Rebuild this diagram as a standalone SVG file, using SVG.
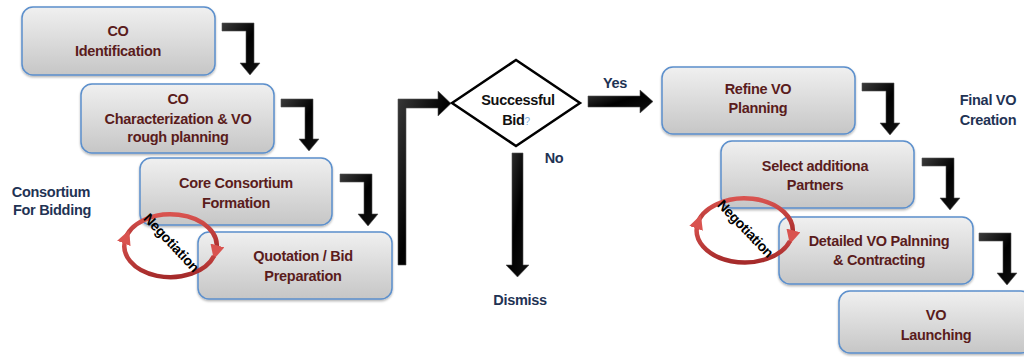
<svg xmlns="http://www.w3.org/2000/svg" xmlns:xlink="http://www.w3.org/1999/xlink" width="1024" height="357" viewBox="0 0 1024 357">
  <defs>
    <linearGradient id="boxFill" x1="0" y1="0" x2="0" y2="1">
      <stop offset="0" stop-color="#f0f0f0"/>
      <stop offset="1" stop-color="#c6c6c6"/>
    </linearGradient>
    <linearGradient id="arrowFill" x1="0" y1="0" x2="1" y2="1">
      <stop offset="0" stop-color="#3a3a3a"/>
      <stop offset="0.5" stop-color="#000"/>
      <stop offset="1" stop-color="#111"/>
    </linearGradient>
    <linearGradient id="ringFill" x1="0" y1="0" x2="0" y2="1">
      <stop offset="0" stop-color="#d9534f"/>
      <stop offset="1" stop-color="#a52a2a"/>
    </linearGradient>
    <filter id="shadow" x="-5%" y="-5%" width="110%" height="120%">
      <feDropShadow dx="0" dy="1.5" stdDeviation="1" flood-color="#000" flood-opacity="0.3"/>
    </filter>
    <!-- elbow arrow: right then down -->
    <path id="elbow" d="M0 0 H32 V40 H38 L28 52 L18 40 H24 V8 H0 Z"/>
    <!-- red arrow tip for the negotiation ring -->
    <marker id="ringTip" viewBox="0 0 10 10" refX="4" refY="5" markerWidth="3.2" markerHeight="3.2" orient="auto">
      <path d="M0 0 L10 5 L0 10 Z" fill="#d9534f"/>
    </marker>
    <style>
      .box { fill: url(#boxFill); stroke: #5b8fcc; stroke-width: 1.5; filter: url(#shadow); }
      .lbl { font-family: "Liberation Sans", Arial, sans-serif; font-weight: bold; font-size: 14.5px; fill: #5a1c1c; text-anchor: middle; letter-spacing: -0.3px; }
      .side { font-family: "Liberation Sans", Arial, sans-serif; font-weight: bold; font-size: 14.5px; fill: #1f3354; text-anchor: middle; letter-spacing: -0.3px; }
      .dec { font-family: "Liberation Sans", Arial, sans-serif; font-weight: bold; font-size: 14.5px; fill: #111; text-anchor: middle; letter-spacing: -0.3px; }
      .neg { font-family: "Liberation Sans", Arial, sans-serif; font-weight: bold; font-size: 14px; fill: #000; text-anchor: middle; letter-spacing: -0.3px; }
      .arw { fill: url(#arrowFill); stroke: #555; stroke-width: 0.6; }
      .ring { fill: none; stroke: url(#ringFill); stroke-width: 4.5; marker-end: url(#ringTip); }
    </style>
  </defs>

  <!-- connectors -->
  <g id="connectors">
    <use xlink:href="#elbow" href="#elbow" class="arw" transform="translate(222,23)"/>
    <use xlink:href="#elbow" href="#elbow" class="arw" transform="translate(281,99)"/>
    <use xlink:href="#elbow" href="#elbow" class="arw" transform="translate(340,174)"/>
    <use xlink:href="#elbow" href="#elbow" class="arw" transform="translate(862,83)"/>
    <use xlink:href="#elbow" href="#elbow" class="arw" transform="translate(922,158)"/>
    <use xlink:href="#elbow" href="#elbow" class="arw" transform="translate(979,233)"/>
    <!-- bid preparation to decision -->
    <path class="arw" d="M398 265 V99 H438 V91 L451 103.5 L438 116 V108 H406 V265 Z"/>
    <!-- yes branch -->
    <path class="arw" d="M588 96 H640 V90 L653 101.5 L640 113 V107 H588 Z"/>
    <!-- no branch -->
    <path class="arw" d="M512 153 H523 V265 H529 L517.5 277 L506 265 H512 Z"/>
  </g>

  <g id="lbl-consortium">
    <text class="side" x="51" y="197">Consortium</text>
    <text class="side" x="52" y="215">For Bidding</text>
  </g>

  <g id="n-co-identification">
    <rect class="box" x="22" y="7" width="193" height="68" rx="11"/>
    <text class="lbl" x="118" y="36">CO</text>
    <text class="lbl" x="118" y="56">Identification</text>
  </g>

  <g id="n-co-characterization">
    <rect class="box" x="81" y="84" width="193" height="69" rx="11"/>
    <text class="lbl" x="178" y="104">CO</text>
    <text class="lbl" x="178" y="124">Characterization &amp; VO</text>
    <text class="lbl" x="178" y="142">rough planning</text>
  </g>

  <g id="n-core-consortium">
    <rect class="box" x="140" y="158" width="192" height="67" rx="11"/>
    <text class="lbl" x="236" y="188">Core Consortium</text>
    <text class="lbl" x="236" y="208">Formation</text>
  </g>

  <g id="n-quotation">
    <rect class="box" x="198" y="232" width="194" height="67" rx="11"/>
    <text class="lbl" x="303" y="261">Quotation / Bid</text>
    <text class="lbl" x="303" y="281">Preparation</text>
  </g>

  <g id="n-negotiation-1">
    <path class="ring" d="M125 240 A46 31 0 0 1 216 251"/>
    <path class="ring" d="M214 256 A46 31 0 0 1 126 238"/>
    <text class="neg" transform="translate(168,246) rotate(47)">Negotiation</text>
  </g>

  <g id="n-decision">
    <polygon points="452,103 516,60 580,103 516,146" fill="#fff" stroke="#000" stroke-width="2.5"/>
    <text class="dec" x="518" y="105">Successful</text>
    <text class="dec" x="516" y="125">Bid<tspan font-size="10" fill="#7fb0e0" font-weight="normal">?</tspan></text>
  </g>

  <g id="lbl-branches">
    <text class="side" x="615" y="88">Yes</text>
    <text class="side" x="554" y="163">No</text>
    <text class="side" x="520" y="305">Dismiss</text>
  </g>

  <g id="n-refine">
    <rect class="box" x="662" y="67" width="193" height="67" rx="11"/>
    <text class="lbl" x="758" y="94">Refine VO</text>
    <text class="lbl" x="758" y="113">Planning</text>
  </g>

  <g id="lbl-final">
    <text class="side" x="988" y="105">Final VO</text>
    <text class="side" x="988" y="125">Creation</text>
  </g>

  <g id="n-select-partners">
    <rect class="box" x="721" y="141" width="193" height="67" rx="11"/>
    <text class="lbl" x="815" y="171">Select additiona</text>
    <text class="lbl" x="815" y="190">Partners</text>
  </g>

  <g id="n-detailed">
    <rect class="box" x="779" y="217" width="194" height="67" rx="11"/>
    <text class="lbl" x="879" y="246">Detailed VO Palnning</text>
    <text class="lbl" x="879" y="265">&amp; Contracting</text>
  </g>

  <g id="n-negotiation-2">
    <path class="ring" d="M697 225 A48 32 0 0 1 792 236"/>
    <path class="ring" d="M790 241 A48 32 0 0 1 698 223"/>
    <text class="neg" transform="translate(742,232) rotate(46)">Negotiation</text>
  </g>

  <g id="n-launching">
    <rect class="box" x="839" y="291" width="193" height="62" rx="11"/>
    <text class="lbl" x="936" y="320">VO</text>
    <text class="lbl" x="936" y="340">Launching</text>
  </g>
</svg>
